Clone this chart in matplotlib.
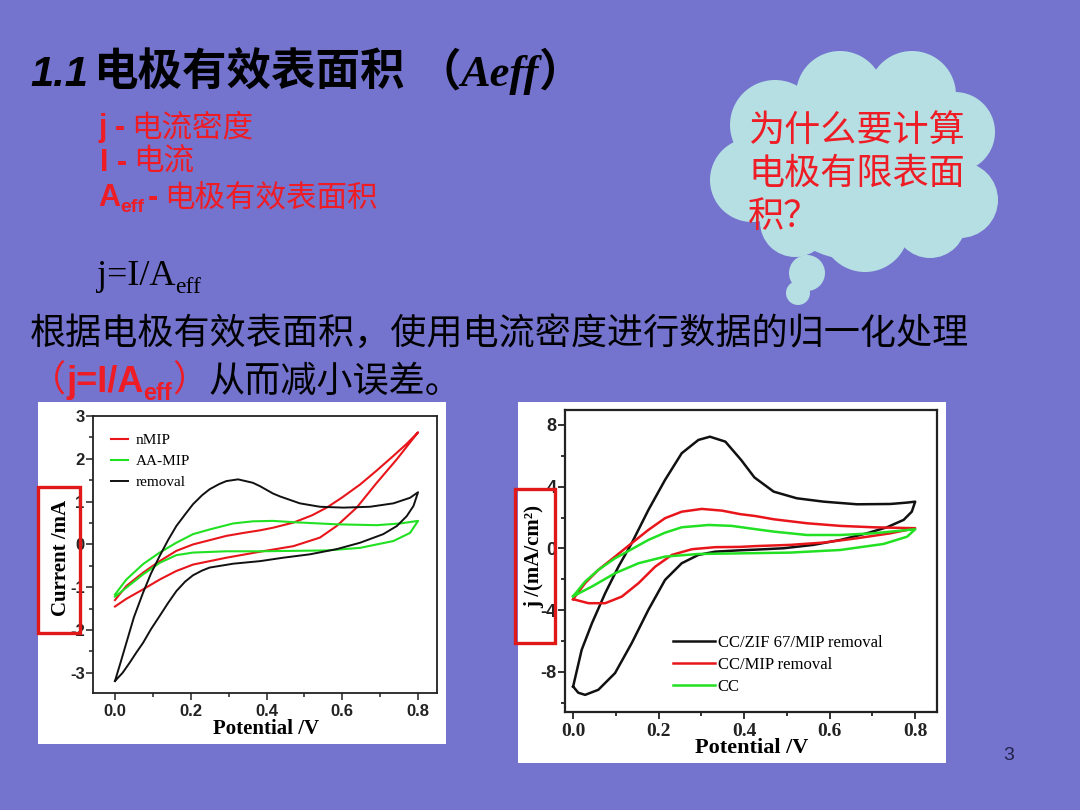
import matplotlib
matplotlib.use("Agg")
import matplotlib.pyplot as plt
from matplotlib.patches import Rectangle, Circle
from matplotlib.ticker import MultipleLocator

# ---------------- data ----------------
# Left chart: Current /mA vs Potential /V, each CV loop as upper & lower branch
rem_up_v = [0.0, 0.015, 0.03, 0.05, 0.074, 0.095, 0.118, 0.14, 0.162, 0.185, 0.206, 0.23, 0.25, 0.275,
            0.294, 0.325, 0.364, 0.383, 0.417, 0.436, 0.488, 0.541, 0.603, 0.673, 0.735, 0.779, 0.80]
rem_up_i = [-3.19, -2.75, -2.30, -1.70, -1.13, -0.68, -0.27, 0.10, 0.43, 0.70, 0.94, 1.15, 1.29, 1.41,
            1.48, 1.52, 1.44, 1.36, 1.19, 1.12, 0.96, 0.88, 0.86, 0.88, 0.96, 1.09, 1.22]
rem_lo_v = [0.0, 0.02, 0.039, 0.056, 0.074, 0.095, 0.118, 0.14, 0.162, 0.185, 0.206, 0.23, 0.25, 0.312,
            0.383, 0.444, 0.515, 0.585, 0.647, 0.708, 0.744, 0.77, 0.788, 0.80]
rem_lo_i = [-3.19, -3.0, -2.76, -2.53, -2.30, -1.98, -1.67, -1.37, -1.09, -0.87, -0.72, -0.61, -0.54, -0.45,
            -0.39, -0.31, -0.23, -0.11, 0.04, 0.24, 0.43, 0.66, 0.90, 1.22]

nmip_up_v = [0.0, 0.03, 0.074, 0.118, 0.162, 0.206, 0.25, 0.294, 0.34, 0.383, 0.417, 0.471, 0.52, 0.559,
             0.60, 0.647, 0.69, 0.735, 0.77, 0.80]
nmip_up_i = [-1.30, -0.97, -0.66, -0.39, -0.15, 0.0, 0.10, 0.20, 0.27, 0.33, 0.39, 0.51, 0.68, 0.86,
             1.10, 1.40, 1.72, 2.07, 2.35, 2.62]
nmip_lo_v = [0.0, 0.03, 0.074, 0.118, 0.162, 0.206, 0.294, 0.383, 0.471, 0.541, 0.585, 0.638, 0.691, 0.744, 0.80]
nmip_lo_i = [-1.45, -1.27, -1.05, -0.82, -0.62, -0.47, -0.31, -0.17, -0.04, 0.16, 0.43, 0.86, 1.44, 1.99, 2.62]

aa_up_v = [0.0, 0.03, 0.074, 0.118, 0.162, 0.206, 0.25, 0.312, 0.364, 0.417, 0.471, 0.585, 0.691, 0.753, 0.80]
aa_up_i = [-1.17, -0.82, -0.46, -0.19, 0.04, 0.24, 0.35, 0.49, 0.54, 0.55, 0.52, 0.47, 0.45, 0.49, 0.55]
aa_lo_v = [0.0, 0.03, 0.074, 0.118, 0.162, 0.206, 0.294, 0.383, 0.471, 0.559, 0.647, 0.735, 0.779, 0.80]
aa_lo_i = [-1.22, -1.01, -0.70, -0.43, -0.25, -0.19, -0.16, -0.16, -0.15, -0.14, -0.08, 0.08, 0.27, 0.55]

left_labels = ["nMIP", "AA-MIP", "removal"]

# Right chart: j /(mA/cm2) vs Potential /V
zif_up_v = [0.0, 0.02, 0.044, 0.075, 0.106, 0.137, 0.176, 0.215, 0.254, 0.293, 0.320, 0.356, 0.393, 0.424,
            0.469, 0.523, 0.586, 0.664, 0.742, 0.781, 0.80]
zif_up_j = [-8.95, -6.57, -4.85, -2.90, -1.18, 0.34, 2.49, 4.44, 6.17, 7.03, 7.24, 6.92, 5.73, 4.60,
            3.68, 3.25, 3.03, 2.86, 2.88, 2.97, 3.03]
zif_lo_v = [0.0, 0.012, 0.028, 0.059, 0.098, 0.137, 0.176, 0.215, 0.254, 0.293, 0.332, 0.391, 0.426, 0.492,
            0.562, 0.625, 0.687, 0.734, 0.773, 0.792, 0.80]
zif_lo_j = [-8.95, -9.35, -9.49, -9.16, -8.08, -6.14, -3.98, -2.04, -0.96, -0.42, -0.21, -0.12, -0.08, 0.01,
            0.23, 0.55, 0.98, 1.37, 1.85, 2.38, 3.03]

mip_up_v = [0.0, 0.028, 0.059, 0.098, 0.137, 0.176, 0.215, 0.254, 0.301, 0.348, 0.391, 0.426, 0.469, 0.547,
            0.625, 0.702, 0.80]
mip_up_j = [-3.29, -2.25, -1.39, -0.53, 0.34, 1.20, 1.96, 2.38, 2.56, 2.45, 2.22, 2.10, 1.89, 1.63,
            1.46, 1.37, 1.31]
mip_lo_v = [0.0, 0.036, 0.075, 0.114, 0.153, 0.192, 0.231, 0.278, 0.332, 0.391, 0.426, 0.508, 0.586, 0.664,
            0.742, 0.80]
mip_lo_j = [-3.29, -3.55, -3.55, -3.12, -2.25, -1.18, -0.42, -0.05, 0.08, 0.10, 0.15, 0.23, 0.38, 0.66,
            0.98, 1.31]

cc_up_v = [0.0, 0.028, 0.059, 0.098, 0.137, 0.176, 0.215, 0.254, 0.317, 0.371, 0.426, 0.469, 0.547, 0.625,
           0.702, 0.80]
cc_up_j = [-3.1, -2.15, -1.39, -0.64, -0.05, 0.55, 1.02, 1.37, 1.52, 1.46, 1.25, 1.09, 0.87, 0.87, 0.98, 1.24]
cc_lo_v = [0.0, 0.044, 0.098, 0.153, 0.215, 0.293, 0.391, 0.508, 0.625, 0.726, 0.781, 0.80]
cc_lo_j = [-3.1, -2.47, -1.61, -0.96, -0.53, -0.36, -0.32, -0.27, -0.10, 0.29, 0.76, 1.24]

right_labels = ["CC/ZIF 67/MIP removal", "CC/MIP removal", "CC"]

left_yticks = [-3, -2, -1, 0, 1, 2, 3]
right_yticks = [-8, -4, 0, 4, 8]
xticks = [0.0, 0.2, 0.4, 0.6, 0.8]

# ---------------- styling ----------------
W, H = 1080, 810
BG = "#7474CF"
CLOUD = "#B6DFE3"
RED = "#EE1C25"
CRED = "#E8161B"
CGREEN = "#22E022"
CBLACK = "#111111"
CJK = ["Noto Sans CJK SC", "DejaVu Sans"]

fig = plt.figure(figsize=(W / 100, H / 100), dpi=100)
fig.patch.set_facecolor(BG)

# background (pixel-space) axes
bg = fig.add_axes([0, 0, 1, 1])
bg.set_zorder(-1)
bg.set_xlim(0, W)
bg.set_ylim(H, 0)
bg.axis("off")
bg.patch.set_alpha(0)

# overlay axes for the red highlight boxes
top = fig.add_axes([0, 0, 1, 1])
top.set_zorder(5)
top.set_xlim(0, W)
top.set_ylim(H, 0)
top.axis("off")
top.patch.set_alpha(0)


def chain(axis, x, y, parts):
    """parts: list of (text, props, dx_pt, dy_pt); pieces follow each other on one baseline."""
    prev = None
    for s, props, dx, dy in parts:
        if prev is None:
            t = axis.text(x, y, s, va="baseline", ha="left", **props)
        else:
            t = axis.annotate(s, xy=(1, y), xycoords=(prev, "data"), xytext=(dx, dy),
                              textcoords="offset points", va="baseline", ha="left", **props)
        prev = t


# ---- title ----
tsz = 32
chain(bg, 30, 86, [
    ("1.1", dict(family="Liberation Sans", style="italic", weight="bold", size=30, color="black"), 0, 0),
    ("电极有效表面积", dict(family=CJK, weight="bold", size=tsz, color="black"), 4, 0),
    ("（", dict(family=CJK, weight="bold", size=tsz, color="black"), 8, 0),
    ("Aeff", dict(family="Liberation Serif", style="italic", weight="bold", size=tsz, color="black"), 0, 0),
    ("）", dict(family=CJK, weight="bold", size=tsz, color="black"), 0, 0),
])

# ---- red definitions ----
rs = 22
rb = dict(family="Liberation Sans", weight="bold", size=rs, color=RED)
rc = dict(family=CJK, size=rs, color=RED)
chain(bg, 98, 136, [("j -", rb, 0, 0), ("电流密度", rc, 4, 0)])
chain(bg, 100, 171, [("I -", rb, 0, 0), ("电流", rc, 4, 0)])
chain(bg, 98, 206, [("A", rb, 0, 0), ("eff", dict(rb, size=14), 0, -4),
                    ("-", rb, 3, 0), ("电极有效表面积", rc, 4, 0)])

# ---- formula ----
chain(bg, 97, 285, [("j=I/A", dict(family="Liberation Serif", size=26, color="black"), 0, 0),
                    ("eff", dict(family="Liberation Serif", size=17, color="black"), 0, -6)])

# ---- body text ----
bs = 26
bg.text(30, 344, "根据电极有效表面积，使用电流密度进行数据的归一化处理", family=CJK, size=bs,
        color="black", va="baseline", ha="left")
chain(bg, 30, 392, [
    ("（", dict(family=CJK, size=bs, color=RED), 0, 0),
    ("j=I/A", dict(family="Liberation Sans", weight="bold", size=bs, color=RED), 0, 0),
    ("eff", dict(family="Liberation Sans", weight="bold", size=17, color=RED), 0, -6),
    ("）", dict(family=CJK, size=bs, color=RED), 0, 0),
    ("从而减小误差。", dict(family=CJK, size=bs, color="black"), 0, 0),
])

# ---- thought cloud ----
cloud_circles = [(775, 125, 45), (840, 95, 44), (912, 95, 44), (955, 132, 40), (752, 180, 42),
                 (960, 200, 38), (795, 222, 35), (865, 228, 44), (930, 222, 36), (855, 165, 95)]
for cx, cy, r in cloud_circles:
    bg.add_patch(Circle((cx, cy), r, facecolor=CLOUD, edgecolor="none"))
bg.add_patch(Circle((807, 273), 18, facecolor=CLOUD, edgecolor="none"))
bg.add_patch(Circle((798, 293), 12, facecolor=CLOUD, edgecolor="none"))
for yb, line in zip([141, 184, 227], ["为什么要计算", "电极有限表面", "积？"]):
    bg.text(748, yb, line, family=CJK, size=26, color=RED, va="baseline", ha="left")

# ---- page number ----
bg.text(1009, 755, "3", family="Liberation Sans", size=14, color="#22224A", ha="center", va="center")

# ---- white panels behind the charts ----
bg.add_patch(Rectangle((38, 402), 408, 342, facecolor="white", edgecolor="none"))
bg.add_patch(Rectangle((518, 402), 428, 361, facecolor="white", edgecolor="none"))

# ---------------- left chart ----------------
ax1 = fig.add_axes([93 / W, 1 - 693 / H, 344 / W, 277 / H])
ax1.plot(nmip_up_v + nmip_lo_v[::-1], nmip_up_i + nmip_lo_i[::-1], color=CRED, lw=1.5, label=left_labels[0])
ax1.plot(aa_up_v + aa_lo_v[::-1], aa_up_i + aa_lo_i[::-1], color=CGREEN, lw=1.5, label=left_labels[1])
ax1.plot(rem_up_v + rem_lo_v[::-1], rem_up_i + rem_lo_i[::-1], color=CBLACK, lw=1.4, label=left_labels[2])
ax1.set_xlim(-0.058, 0.85)
ax1.set_ylim(-3.47, 3.0)
ax1.set_xticks(xticks)
ax1.set_xticklabels([f"{v:.1f}" for v in xticks])
ax1.set_yticks(left_yticks)
ax1.set_yticklabels([str(v) for v in left_yticks])
ax1.xaxis.set_minor_locator(MultipleLocator(0.1))
ax1.yaxis.set_minor_locator(MultipleLocator(0.5))
ax1.tick_params(which="both", direction="out", width=1.1, colors="#222222")
ax1.tick_params(which="major", length=5)
ax1.tick_params(axis="x", which="major", pad=3)
ax1.tick_params(axis="y", which="major", pad=1)
ax1.tick_params(which="minor", length=3)
for lab in ax1.get_xticklabels() + ax1.get_yticklabels():
    lab.set_fontfamily("Liberation Sans")
    lab.set_fontweight("bold")
    lab.set_fontsize(12)
for sp in ax1.spines.values():
    sp.set_linewidth(1.3)
    sp.set_color("#222222")
ax1.set_xlabel("Potential /V", family="Liberation Serif", weight="bold", size=15, va="center")
ax1.xaxis.set_label_coords(266 / W, 1 - 729 / H, transform=fig.transFigure)
ax1.set_ylabel("Current /mA", family="Liberation Serif", weight="bold", size=15, va="center")
ax1.yaxis.set_label_coords(61 / W, 1 - 558 / H, transform=fig.transFigure)
ax1.legend(loc="upper left", bbox_to_anchor=(0.035, 0.958), frameon=False,
           prop=dict(family="Liberation Serif", size=11), handlelength=1.1, handletextpad=0.5,
           labelspacing=0.48, borderaxespad=0)

# ---------------- right chart ----------------
ax2 = fig.add_axes([565 / W, 1 - 712 / H, 372 / W, 302 / H])
ax2.plot(zif_up_v + zif_lo_v[::-1], zif_up_j + zif_lo_j[::-1], color=CBLACK, lw=1.8, label=right_labels[0])
ax2.plot(mip_up_v + mip_lo_v[::-1], mip_up_j + mip_lo_j[::-1], color=CRED, lw=1.8, label=right_labels[1])
ax2.plot(cc_up_v + cc_lo_v[::-1], cc_up_j + cc_lo_j[::-1], color=CGREEN, lw=1.8, label=right_labels[2])
ax2.set_xlim(-0.019, 0.851)
ax2.set_ylim(-10.6, 8.97)
ax2.set_xticks(xticks)
ax2.set_xticklabels([f"{v:.1f}" for v in xticks])
ax2.set_yticks(right_yticks)
ax2.set_yticklabels([str(v) for v in right_yticks])
ax2.xaxis.set_minor_locator(MultipleLocator(0.1))
ax2.yaxis.set_minor_locator(MultipleLocator(2))
ax2.tick_params(which="both", direction="out", width=1.3, colors="#222222")
ax2.tick_params(which="major", length=5)
ax2.tick_params(axis="x", which="major", pad=3)
ax2.tick_params(axis="y", which="major", pad=1)
ax2.tick_params(which="minor", length=3)
for lab in ax2.get_xticklabels():
    lab.set_fontfamily("Liberation Serif")
    lab.set_fontweight("bold")
    lab.set_fontsize(14)
for lab in ax2.get_yticklabels():
    lab.set_fontfamily("Liberation Sans")
    lab.set_fontweight("bold")
    lab.set_fontsize(13)
for sp in ax2.spines.values():
    sp.set_linewidth(1.6)
    sp.set_color("#222222")
ax2.set_xlabel("Potential /V", family="Liberation Serif", weight="bold", size=16, va="center")
ax2.xaxis.set_label_coords(752 / W, 1 - 748 / H, transform=fig.transFigure)
ax2.set_ylabel("j /(mA/cm²)", family="Liberation Serif", weight="bold", size=15, va="center")
ax2.yaxis.set_label_coords(534 / W, 1 - 557 / H, transform=fig.transFigure)
ax2.legend(loc="lower left", bbox_to_anchor=(0.272, 0.035), frameon=False,
           prop=dict(family="Liberation Serif", size=12), handlelength=2.5, handletextpad=0.2,
           labelspacing=0.35, borderaxespad=0)

# ---------------- red highlight boxes ----------------
top.add_patch(Rectangle((38, 487), 42, 146, facecolor="none", edgecolor="#E01818", lw=2.4))
top.add_patch(Rectangle((515, 489), 40, 154, facecolor="none", edgecolor="#E01818", lw=2.4))

fig.savefig("out.png", dpi=100, facecolor=BG)
